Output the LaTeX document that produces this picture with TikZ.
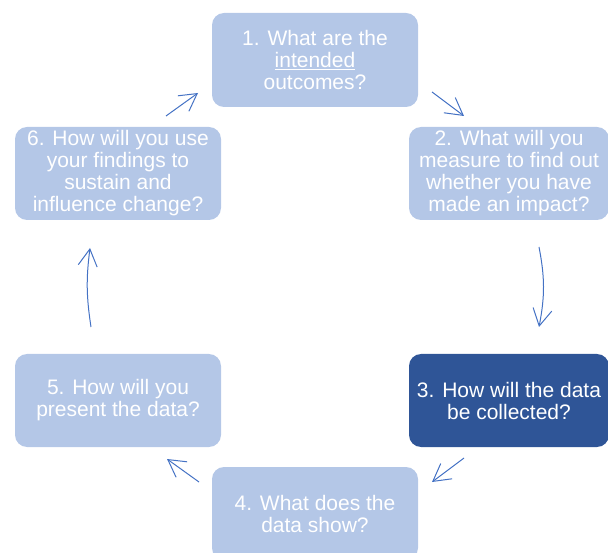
\documentclass[tikz,border=0pt]{standalone}
\usepackage{fontspec}
\setmainfont{Liberation Sans}
\usetikzlibrary{arrows.meta}
\definecolor{boxlight}{HTML}{B4C7E7}
\definecolor{boxdark}{HTML}{2F5597}
\definecolor{arrowblue}{HTML}{4472C4}
\begin{document}
\begin{tikzpicture}[x=1pt,y=-1pt,
  qbox/.style={rectangle, rounded corners=12pt, fill=boxlight, text=white,
    inner sep=0pt, align=center, font=\fontsize{21}{22}\selectfont},
  flowarrow/.style={draw=arrowblue, line width=1pt,
    -{Straight Barb[length=17pt,width=19pt,line width=1pt]}}]
\clip (0,0) rectangle (608,553);
\node[qbox, minimum width=206pt, minimum height=94pt] (n1) at (315,60)
  {1. What are the\\\underline{intended}\\outcomes?};
\node[qbox, minimum width=200pt, minimum height=93pt] (n2) at (509,173.5)
  {2. What will you\\measure to find out\\whether you have\\made an impact?};
\node[qbox, fill=boxdark, minimum width=200pt, minimum height=93pt] (n3) at (509,400.5)
  {3. How will the data\\be collected?};
\node[qbox, minimum width=206pt, minimum height=93pt] (n4) at (315,513.5)
  {4. What does the\\data show?};
\node[qbox, minimum width=206pt, minimum height=93pt] (n5) at (118,400.5)
  {5. How will you\\present the data?};
\node[qbox, minimum width=206pt, minimum height=93pt] (n6) at (118,173.5)
  {6. How will you use\\your findings to\\sustain and\\influence change?};
\coordinate (a12s) at (432,92);
\coordinate (a12e) at (464,116);
\coordinate (a23s) at (539,247);
\coordinate (a23e) at (539,327);
\coordinate (a34s) at (464,458);
\coordinate (a34e) at (432,482);
\coordinate (a45s) at (199,482);
\coordinate (a45e) at (167,459);
\coordinate (a56s) at (91,327);
\coordinate (a56e) at (90,248);
\coordinate (a61s) at (166,116);
\coordinate (a61e) at (198,93);
\draw[flowarrow] (a12s) -- (a12e);
\draw[flowarrow] (a23s) to[bend left=11] (a23e);
\draw[flowarrow] (a34s) -- (a34e);
\draw[flowarrow] (a45s) -- (a45e);
\draw[flowarrow] (a56s) to[bend left=8] (a56e);
\draw[flowarrow] (a61s) -- (a61e);
\end{tikzpicture}
\end{document}
